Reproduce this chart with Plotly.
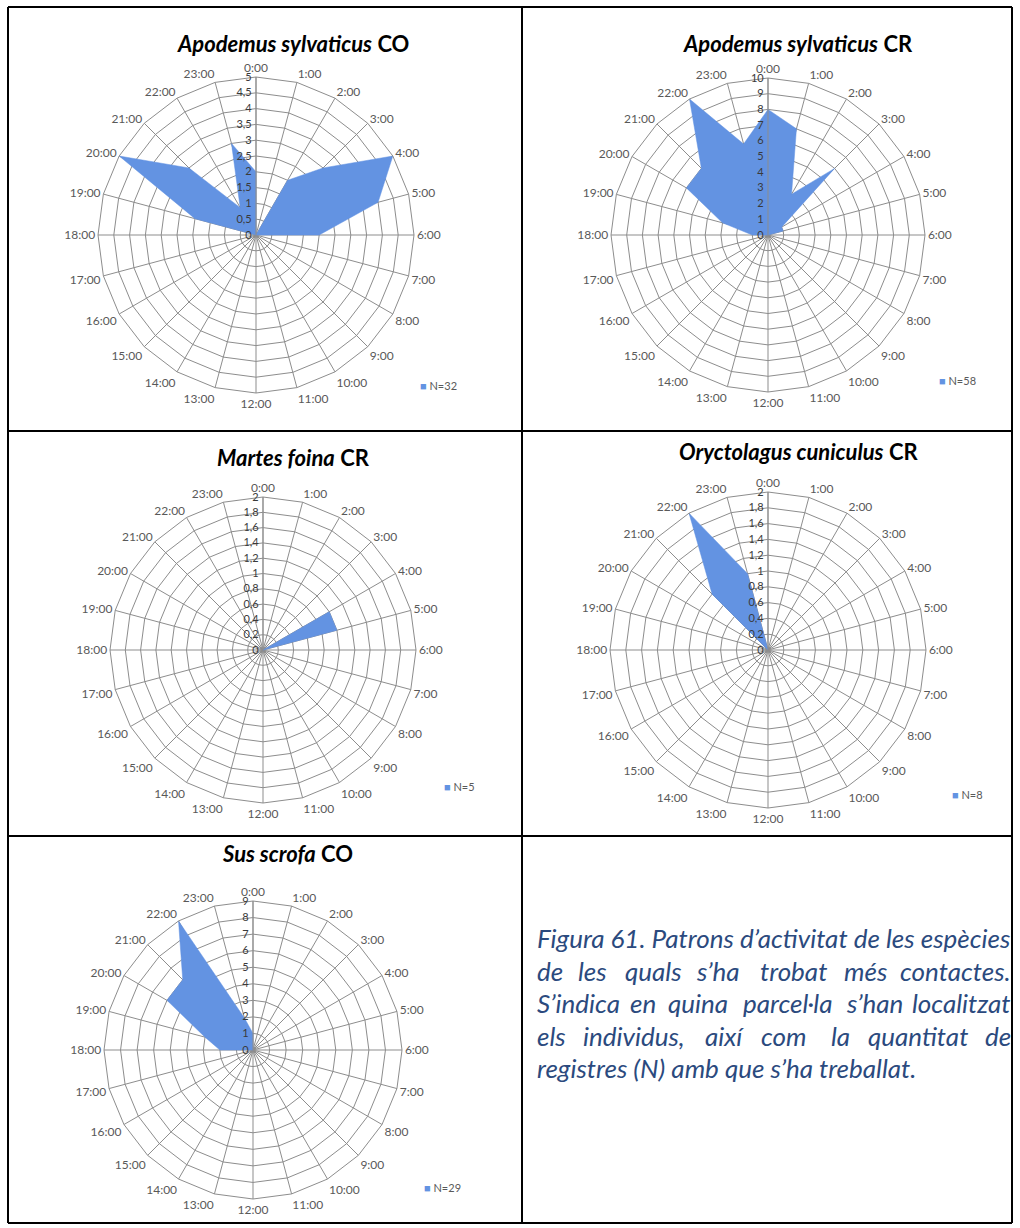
import plotly.graph_objects as go

# Hour-of-day categories (clockwise from midnight)
hours = ["0:00", "1:00", "2:00", "3:00", "4:00", "5:00", "6:00", "7:00",
         "8:00", "9:00", "10:00", "11:00", "12:00", "13:00", "14:00", "15:00",
         "16:00", "17:00", "18:00", "19:00", "20:00", "21:00", "22:00", "23:00"]

# Number of records per hour for each species / plot
apodemus_co = [2, 0, 2, 3, 5, 4, 2, 0, 0, 0, 0, 0, 0, 0, 0, 0, 0, 0, 0, 2, 5, 3, 1, 3]
apodemus_cr = [8, 7, 3, 6, 1, 1, 0, 0, 0, 0, 0, 0, 0, 0, 0, 0, 0, 0, 1, 3, 6, 6, 10, 6]
martes_cr = [0, 0, 0, 0, 1, 1, 0, 0, 0, 0, 0, 0, 0, 0, 0, 0, 0, 0, 0, 0, 0, 0, 0, 0]
oryctolagus_cr = [0, 0, 0, 0, 0, 0, 0, 0, 0, 0, 0, 0, 0, 0, 0, 0, 0, 0, 0, 0, 0, 1, 2, 1]
sus_co = [1, 0, 0, 0, 0, 0, 0, 0, 0, 0, 0, 0, 0, 0, 0, 0, 0, 0, 2, 3, 6, 6, 9, 2]

# Radial tick values and their labels (comma decimals)
ticks_5 = [0, 0.5, 1, 1.5, 2, 2.5, 3, 3.5, 4, 4.5, 5]
labels_5 = ["0", "0,5", "1", "1,5", "2", "2,5", "3", "3,5", "4", "4,5", "5"]
ticks_10 = [0, 1, 2, 3, 4, 5, 6, 7, 8, 9, 10]
labels_10 = ["0", "1", "2", "3", "4", "5", "6", "7", "8", "9", "10"]
ticks_2 = [0, 0.2, 0.4, 0.6, 0.8, 1, 1.2, 1.4, 1.6, 1.8, 2]
labels_2 = ["0", "0,2", "0,4", "0,6", "0,8", "1", "1,2", "1,4", "1,6", "1,8", "2"]
ticks_9 = [0, 1, 2, 3, 4, 5, 6, 7, 8, 9]
labels_9 = ["0", "1", "2", "3", "4", "5", "6", "7", "8", "9"]

species = ["Apodemus sylvaticus", "Apodemus sylvaticus", "Martes foina",
           "Oryctolagus cuniculus", "Sus scrofa"]
plots = ["CO", "CR", "CR", "CR", "CO"]
records = [32, 58, 5, 8, 29]

W, H = 1020, 1228
FONT = "Lato"
FILL = "#6393e2"
GRID = "#8d8d8d"

# Each panel: data, ticks, centre (px), radius (px), title pos, key pos
panels = [
    dict(vals=apodemus_co, tv=ticks_5, tt=labels_5, cx=256, cy=235, r=158,
         tx=293, ty=43, lx=418, ly=385),
    dict(vals=apodemus_cr, tv=ticks_10, tt=labels_10, cx=768, cy=235, r=157,
         tx=798, ty=43, lx=937, ly=380),
    dict(vals=martes_cr, tv=ticks_2, tt=labels_2, cx=263, cy=650, r=153,
         tx=293, ty=457, lx=442, ly=787),
    dict(vals=oryctolagus_cr, tv=ticks_2, tt=labels_2, cx=768, cy=650, r=158,
         tx=798, ty=452, lx=950, ly=794),
    dict(vals=sus_co, tv=ticks_9, tt=labels_9, cx=253, cy=1050, r=149,
         tx=287, ty=853, lx=422, ly=1187),
]

fig = go.Figure()
layout = dict(width=W, height=H, margin=dict(l=0, r=0, t=0, b=0),
              paper_bgcolor="white", plot_bgcolor="white", showlegend=False,
              font=dict(family=FONT, color="#595959"))
annotations = []

for i, p in enumerate(panels):
    pkey = "polar" if i == 0 else f"polar{i + 1}"
    vals = p["vals"]
    fig.add_trace(go.Scatterpolar(
        r=vals + [vals[0]], theta=hours + [hours[0]],
        mode="lines", fill="toself", fillcolor=FILL,
        line=dict(color=FILL, width=0.5),
        name=f"N={records[i]}", subplot=pkey, hoverinfo="skip"))
    cx, cy, r = p["cx"], p["cy"], p["r"]
    layout[pkey] = dict(
        domain=dict(x=[(cx - r) / W, (cx + r) / W],
                    y=[1 - (cy + r) / H, 1 - (cy - r) / H]),
        gridshape="linear", bgcolor="white",
        angularaxis=dict(type="category", categoryorder="array",
                         categoryarray=hours, direction="clockwise",
                         rotation=90, showline=True, linecolor=GRID,
                         linewidth=1, gridcolor=GRID, gridwidth=1, ticks="",
                         tickfont=dict(family=FONT, size=12, color="#595959")),
        radialaxis=dict(range=[0, p["tv"][-1]], tickvals=p["tv"],
                        ticktext=p["tt"], angle=90, tickangle=90,
                        side="counterclockwise", showline=True,
                        linecolor=GRID, linewidth=1, gridcolor=GRID,
                        gridwidth=1, ticks="",
                        tickfont=dict(family=FONT, size=11, color="#3a3a3a")),
    )
    # series key: small blue square followed by the record count
    annotations.append(dict(
        x=p["lx"] / W, y=1 - p["ly"] / H, xref="paper", yref="paper",
        text=f"<span style='color:{FILL}'>■</span> N={records[i]}",
        showarrow=False, xanchor="left", yanchor="middle",
        font=dict(family=FONT, size=11, color="#595959")))
    annotations.append(dict(
        x=p["tx"] / W, y=1 - p["ty"] / H, xref="paper", yref="paper",
        text=f"<b><i>{species[i]}</i> {plots[i]}</b>", showarrow=False,
        xanchor="center", yanchor="middle",
        font=dict(family=FONT, size=22, color="black")))

# Caption: first and last lines set naturally, middle lines justified
CAP = "#2b4a7e"
CAP_SIZE = 26
annotations.append(dict(
    x=535 / W, y=1 - 938 / H, xref="paper", yref="paper",
    text="<i>Figura 61. Patrons d’activitat de les espècies</i>",
    showarrow=False, xanchor="left", yanchor="middle",
    font=dict(family=FONT, size=CAP_SIZE, color=CAP)))
caption_lines = [
    (971, ["de", "les", "quals", "s’ha", "trobat", "més", "contactes."],
     [535, 592, 653, 718, 793, 865, 1013]),
    (1003, ["S’indica", "en", "quina", "parcel·la", "s’han", "localitzat"],
     [535, 643, 698, 787, 874, 1013]),
    (1036, ["els", "individus,", "així", "com", "la", "quantitat", "de"],
     [535, 634, 724, 784, 840, 918, 1013]),
]
for y, words, xs in caption_lines:
    n = len(words)
    for j, (w, x) in enumerate(zip(words, xs)):
        anchor = "left" if j == 0 else ("right" if j == n - 1 else "center")
        annotations.append(dict(
            x=x / W, y=1 - y / H, xref="paper", yref="paper",
            text=f"<i>{w}</i>", showarrow=False, xanchor=anchor,
            yanchor="middle", font=dict(family=FONT, size=CAP_SIZE, color=CAP)))
annotations.append(dict(
    x=535 / W, y=1 - 1068 / H, xref="paper", yref="paper",
    text="<i>registres (N) amb que s’ha treballat.</i>", showarrow=False,
    xanchor="left", yanchor="middle",
    font=dict(family=FONT, size=CAP_SIZE, color=CAP)))

# Table borders
shapes = []
def hline(y, x0=8, x1=1012):
    shapes.append(dict(type="line", xref="paper", yref="paper",
                       x0=x0 / W, x1=x1 / W, y0=1 - y / H, y1=1 - y / H,
                       line=dict(color="black", width=2)))
def vline(x, y0=7, y1=1223):
    shapes.append(dict(type="line", xref="paper", yref="paper",
                       x0=x / W, x1=x / W, y0=1 - y0 / H, y1=1 - y1 / H,
                       line=dict(color="black", width=2)))
hline(7)
hline(1223)
hline(431)
hline(836)
vline(8)
vline(1012)
vline(522)

layout["annotations"] = annotations
layout["shapes"] = shapes
fig.update_layout(**layout)
fig.write_html("out.html")
